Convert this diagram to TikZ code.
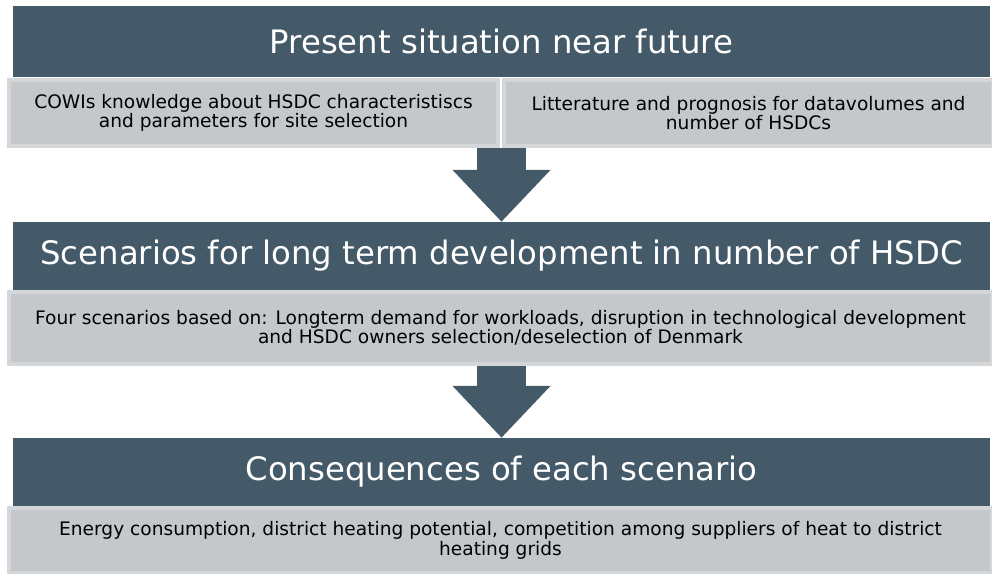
\documentclass[tikz,border=0pt]{standalone}
\usepackage{fontspec}
\setmainfont{DejaVu Sans}
\usetikzlibrary{arrows.meta, positioning}

\definecolor{slate}{HTML}{445A69}
\definecolor{boxgray}{HTML}{C5C8CB}
\definecolor{edgegray}{HTML}{D5D6D8}

\tikzset{
    headbox/.style={rectangle, fill=slate, text=white, minimum width=977pt, inner sep=0pt, font=\fontsize{32.3}{36}\selectfont},
    infobox/.style={rectangle, fill=boxgray, draw=edgegray, line width=4pt, inner sep=0pt, align=center, font=\fontsize{18.6}{19.5}\selectfont},
    flow/.style={line width=49pt, slate, -{Triangle[length=52pt, width=95pt]}}
}

\begin{document}
\begin{tikzpicture}[x=1pt, y=-1pt]
    \useasboundingbox (0,0) rectangle (992,573);

    % headers
    \node (PresentHead) [headbox, minimum height=71pt] at (501.5,41.5) {Present situation near future};
    \node (ScenarioHead) [headbox, minimum height=68pt] at (501.5,256) {Scenarios for long term development in number of HSDC};
    \node (ConsequenceHead) [headbox, minimum height=68pt] at (501.5,472) {Consequences of each scenario};

    % gray boxes below each header
    \node (Knowledge) [infobox, minimum width=489pt, minimum height=66pt] at (253.5,113) {COWIs knowledge about HSDC characteristiscs\\and parameters for site selection};
    \node (Litterature) [infobox, minimum width=489pt, minimum height=66pt] at (748.5,113) {Litterature and prognosis for datavolumes and\\number of HSDCs};
    \node (FourScenarios) [infobox, minimum width=983pt, minimum height=72pt] at (500.5,328) {Four scenarios based on: Longterm demand for workloads, disruption in technological development\\and HSDC owners selection/deselection of Denmark};
    \node (Consequences) [infobox, minimum width=983pt, minimum height=65pt] at (500.5,540.5) {Energy consumption, district heating potential, competition among suppliers of heat to district\\heating grids};

    % big arrows
    \draw[flow] (PresentHead |- Knowledge.south) -- (ScenarioHead.north);
    \draw[flow] (ScenarioHead |- FourScenarios.south) -- (ConsequenceHead.north);
\end{tikzpicture}
\end{document}
